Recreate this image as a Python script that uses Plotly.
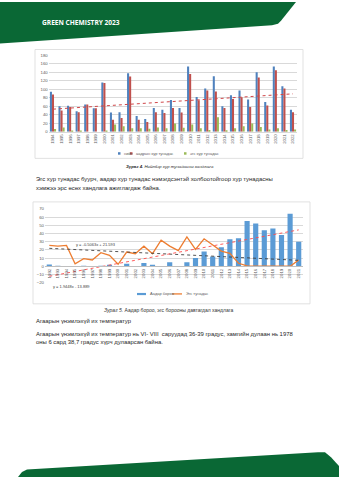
import numpy as np
import plotly.graph_objects as go

W, H = 339, 480

# ---------------- data ----------------
years1 = [str(y) for y in range(1994, 2023)]
total_precip = [94, 60, 61, 48, 64, 55, 116, 45, 46, 138, 37, 30, 56, 52, 75,
                56, 154, 82, 102, 131, 60, 86, 97, 76, 140, 70, 154, 107, 52]
shower_precip = [88, 50, 58, 46, 64, 55, 115, 28, 32, 130, 28, 23, 46, 44, 56,
                 45, 136, 74, 97, 95, 56, 77, 81, 58, 128, 62, 145, 102, 46]
steady_precip = [6, 10, 2, 2, 0, 0, 1, 17, 13, 8, 8, 7, 10, 8, 19,
                 9, 17, 8, 4, 34, 3, 8, 13, 19, 11, 5, 8, 4, 5]
legend1 = ["нийт", "аадрын хур тунадас", "эгс хур тунадас"]

years2 = [str(y) for y in range(1992, 2022)]
shower_rain = [2, 0.5, 0, 0, 0.5, 0, 0.5, 1, 0, 3, 0, 4, 1, 0, 5,
               0, 5, 10, 18, 12, 23, 33, 34, 55, 52, 44, 46, 38, 64, 30]
steady_rain = [25.4, 24.5, 25.4, 3, 9.3, 7.6, 16.5, 13.3, 2.4, 17.3, 15.3, 24.5, 15.3, 31.8, 24.5,
               19, 35.8, 20.5, 33.4, 25.4, 18.5, 15.7, 3.6, 0.4, 0, 0, 0, 0, 0, 7.6]
legend2 = ["Аадар бороо", "Эгс тунадас"]
eq_steady = "y = -0.5063x + 21.593"
eq_shower = "y = 1.9448x - 13.889"


def X(p):
    return p / W


def Y(p):
    return 1 - p / H


FONT = "Liberation Sans"
GRID = "#d9d9d9"
TICK = "#595959"
BODY = "#262626"

fig = go.Figure()

# ---- chart 1 ----
for vals, col, nm in zip([total_precip, shower_precip, steady_precip],
                         ["#4f81bd", "#c0504d", "#9bbb59"], legend1):
    fig.add_bar(x=years1, y=vals, name=nm, marker=dict(color=col, line=dict(width=0)),
                xaxis="x", yaxis="y", showlegend=False)
i1 = np.arange(1, len(shower_precip) + 1)
c1 = np.polyfit(i1, shower_precip, 1)
fig.add_scatter(x=years1, y=np.polyval(c1, i1), mode="lines", xaxis="x", yaxis="y",
                line=dict(color="#d0474a", dash="dot", width=1), showlegend=False)

# ---- chart 2 ----
fig.add_bar(x=years2, y=shower_rain, name=legend2[0], marker=dict(color="#5b9bd5", line=dict(width=0)),
            width=0.6, xaxis="x2", yaxis="y2", showlegend=False)
fig.add_scatter(x=years2, y=steady_rain, name=legend2[1], mode="lines", xaxis="x2", yaxis="y2",
                line=dict(color="#ed7d31", width=1.3), showlegend=False)
i2 = np.arange(1, len(years2) + 1)
c2a = np.polyfit(i2, steady_rain, 1)
c2b = np.polyfit(i2, shower_rain, 1)
fig.add_scatter(x=years2, y=np.polyval(c2a, i2), mode="lines", xaxis="x2", yaxis="y2",
                line=dict(color="#404040", dash="dot", width=0.9), showlegend=False)
fig.add_scatter(x=years2, y=np.polyval(c2b, i2), mode="lines", xaxis="x2", yaxis="y2",
                line=dict(color="#ff4b4b", dash="dot", width=0.9), showlegend=False)

# ---------------- shapes ----------------
def path(pts, close=True):
    s = "M " + " L ".join(f"{X(a):.5f},{Y(b):.5f}" for a, b in pts)
    return s + (" Z" if close else "")

shapes = []
green = "#0a6835"
top_pts = [(0, 0), (296, 0), (281, 19), (278, 22), (272, 23.5), (0, 42)]
bot_pts = [(18, 480), (22, 475), (27, 472.5), (318, 455), (325, 455), (331, 460), (339, 469), (339, 480)]
shapes.append(dict(type="path", path=path(top_pts), xref="paper", yref="paper",
                   fillcolor=green, line=dict(width=0), layer="below"))
shapes.append(dict(type="path", path=path(bot_pts), xref="paper", yref="paper",
                   fillcolor=green, line=dict(width=0), layer="below"))
for (x0, y0, x1, y1) in [(35, 48, 303, 158), (33, 202, 310, 305)]:
    shapes.append(dict(type="rect", xref="paper", yref="paper", x0=X(x0), x1=X(x1), y0=Y(y1), y1=Y(y0),
                       line=dict(color=GRID, width=0.8), fillcolor="rgba(0,0,0,0)", layer="below"))

# legend swatches chart 1
leg1_x = [118, 130, 184]
for lx, col in zip(leg1_x, ["#4f81bd", "#c0504d", "#9bbb59"]):
    shapes.append(dict(type="rect", xref="paper", yref="paper", x0=X(lx), x1=X(lx + 2.5),
                       y0=Y(154.3), y1=Y(151.8), fillcolor=col, line=dict(width=0)))
# legend swatches chart 2
shapes.append(dict(type="rect", xref="paper", yref="paper", x0=X(137), x1=X(146),
                   y0=Y(296.2), y1=Y(294), fillcolor="#5b9bd5", line=dict(width=0)))
shapes.append(dict(type="line", xref="paper", yref="paper", x0=X(172), x1=X(182),
                   y0=Y(295), y1=Y(295), line=dict(color="#ed7d31", width=1.3)))

# ---------------- texts ----------------
ann = []


def txt(x, y, s, size, color=BODY, xa="left", bold=False, italic=False, family=FONT):
    if bold:
        s = f"<b>{s}</b>"
    if italic:
        s = f"<i>{s}</i>"
    ann.append(dict(x=X(x), y=Y(y), xref="paper", yref="paper", text=s, showarrow=False,
                    xanchor=xa, yanchor="middle", font=dict(size=size, color=color, family=family)))


txt(40, 21, "GREEN CHEMISTRY 2023", 6.6, "#ffffff", bold=True, family="Open Sans")
txt(170, 166, "<b>Зураг 4.</b> Нийлбэр хур тунадасны хандлага", 4.3, "#262626", xa="center", italic=True)
txt(34, 179, "Эгс хур тунадас буурч, аадар хур тунадас нэмэгдсэнтэй холбоотойгоор хур тунадасны", 5.9)
txt(34, 187.5, "хэмжээ эрс өсөх хандлага ажиглагдаж байна.", 5.9)
txt(168, 311, "<i>Зураг 5.</i> Аадар бороо, эгс борооны давтагдал хандлага", 5.0, "#333333", xa="center")
txt(34, 322.5, "Агаарын үнэмлэхүй их температур", 5.9)
txt(34, 335, "Агаарын үнэмлэхүй их температур нь VI- VIII  саруудад 36-39 градус, хамгийн дулаан нь 1978", 5.9)
txt(34, 344, "оны 6 сард 38,7 градус хүрч дулаарсан байна.", 5.9)

for lx, s in zip(leg1_x, legend1):
    txt(lx + 3.5, 153, s, 4.0, TICK)
txt(147.5, 295, legend2[0], 4.0, TICK)
txt(184, 295, legend2[1], 4.0, TICK)

txt(74, 245, eq_steady, 4.0, "#404040")
txt(51, 287, eq_shower, 4.0, "#404040")

fig.update_layout(
    width=W, height=H, margin=dict(l=0, r=0, t=0, b=0),
    paper_bgcolor="white", plot_bgcolor="rgba(0,0,0,0)",
    barmode="group", bargap=0.28, bargroupgap=0,
    shapes=shapes, annotations=ann, showlegend=False,
    font=dict(family=FONT),
    xaxis=dict(domain=[X(48.7), X(297.3)], anchor="y", type="category",
               tickmode="array", tickvals=years1, ticktext=years1, tickangle=-90,
               tickfont=dict(size=4.3, color=TICK), showline=True, linecolor=GRID, linewidth=0.8,
               showgrid=False, ticks="", fixedrange=True),
    yaxis=dict(domain=[Y(131), Y(54)], anchor="x", range=[0, 180], dtick=20,
               tickfont=dict(size=4.3, color=TICK), gridcolor=GRID, gridwidth=0.6,
               zeroline=False, showline=False, ticks="", fixedrange=True),
    xaxis2=dict(domain=[X(45), X(303)], anchor="free", position=Y(267), type="category",
                tickmode="array", tickvals=years2, ticktext=years2, tickangle=-90,
                tickfont=dict(size=4.3, color=TICK), showline=True, linecolor="#bfbfbf", linewidth=0.8,
                showgrid=False, ticks="", fixedrange=True),
    yaxis2=dict(domain=[Y(283.6), Y(209)], anchor="x2", range=[-20, 70], dtick=10,
                tickfont=dict(size=4.3, color=TICK), gridcolor=GRID, gridwidth=0.6,
                zeroline=False, showline=False, ticks="", fixedrange=True),
)

fig.write_html("out.html")
